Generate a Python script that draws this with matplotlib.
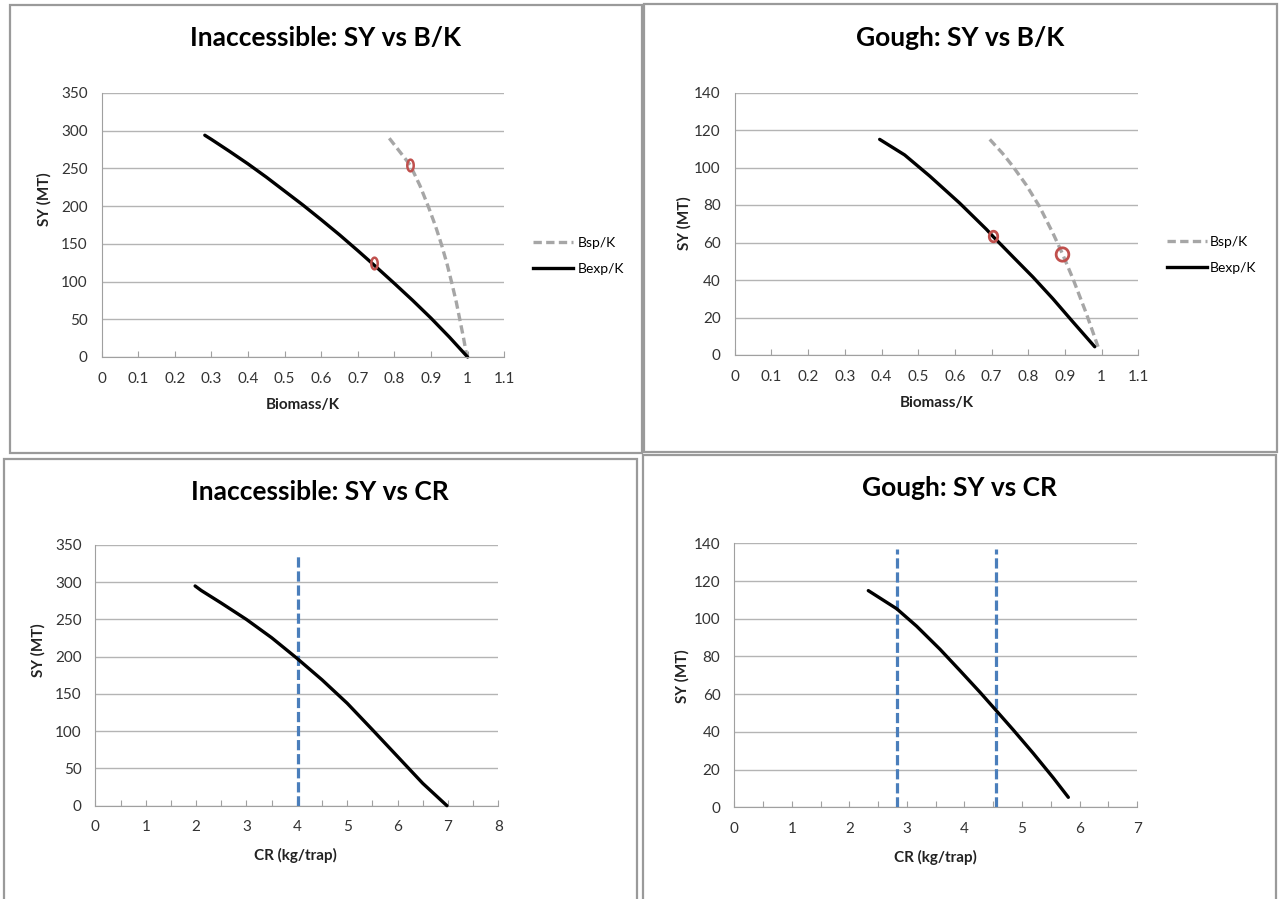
import matplotlib
matplotlib.use('Agg')
import matplotlib.pyplot as plt
from matplotlib.patches import Rectangle
from matplotlib.path import Path
from matplotlib.ticker import MultipleLocator, FuncFormatter
import numpy as np

plt.rcParams['font.family'] = ['Lato', 'DejaVu Sans']

# ---- data ----
# Inaccessible: SY vs B/K
ina_bexp_x = [0.282, 0.30, 0.35, 0.40, 0.45, 0.50, 0.55, 0.60, 0.65, 0.70, 0.75, 0.80, 0.85, 0.90, 0.95, 1.00]
ina_bexp_y = [294, 288.5, 272.5, 256, 238.5, 220, 201.5, 182, 162, 141, 119.5, 97.5, 75, 51.5, 26.5, 0]
ina_bsp_x = [0.786, 0.815, 0.843, 0.870, 0.893, 0.912, 0.929, 0.944, 0.957, 0.969, 0.979, 0.989, 0.998]
ina_bsp_y = [290, 272, 254.6, 227, 199, 174, 148.5, 123, 97.7, 73, 49, 25, 0.4]
ina_pts_x = [0.744, 0.843]
ina_pts_y = [124.6, 254.6]

# Gough: SY vs B/K
gou_bexp_x = [0.395, 0.463, 0.531, 0.613, 0.686, 0.704, 0.758, 0.813, 0.867, 0.920, 0.981]
gou_bexp_y = [115, 106.7, 95.5, 81, 67, 63.2, 52.4, 41.5, 30, 18.0, 4.4]
gou_bsp_x = [0.695, 0.730, 0.758, 0.795, 0.831, 0.867, 0.893, 0.922, 0.958, 0.990]
gou_bsp_y = [115, 107.5, 100.6, 90.5, 79, 65, 54, 40.5, 22.2, 4.4]
gou_pts_x = [0.704, 0.893]
gou_pts_y = [63.6, 53.9]

# Inaccessible: SY vs CR
ina_cr_x = [1.98, 2.1, 2.5, 3.0, 3.5, 4.0, 4.5, 5.0, 5.5, 6.0, 6.5, 6.98]
ina_cr_y = [295, 289, 272, 250, 225.5, 198, 169, 137.5, 102, 66, 30, 0]
ina_cr_marks = [4.03]
ina_cr_mark_top = 339

# Gough: SY vs CR
gou_cr_x = [2.329, 2.822, 3.17, 3.575, 3.922, 4.27, 4.543, 4.849, 5.196, 5.544, 5.805]
gou_cr_y = [114.9, 105.3, 96, 83.8, 72.5, 61, 51.6, 41, 28.6, 15.6, 5.3]
gou_cr_marks = [2.822, 4.543]
gou_cr_mark_top = 136.8

W, H = 1280, 899
fig = plt.figure(figsize=(12.8, 8.99), dpi=100)


def px_axes(l, r, t, b):
    return fig.add_axes([l / W, 1 - b / H, (r - l) / W, (b - t) / H])


def fig_text(x, y, s, **kw):
    fig.text(x / W, 1 - y / H, s, ha='center', va='center', **kw)


def ellipse_marker(ratio):
    th = np.linspace(0, 2 * np.pi, 61)
    return Path(np.column_stack([ratio * np.cos(th), np.sin(th)]), closed=True)


def style_axes(ax, xmax, xstep, xminor, ymax, ystep):
    ax.set_xlim(0, xmax)
    ax.set_ylim(0, ymax)
    ax.xaxis.set_major_locator(MultipleLocator(xstep))
    if xminor:
        ax.xaxis.set_minor_locator(MultipleLocator(xminor))
    ax.yaxis.set_major_locator(MultipleLocator(ystep))
    ax.xaxis.set_major_formatter(FuncFormatter(lambda v, p: '%g' % round(v, 2)))
    ax.grid(axis='y', color='#b4b4b4', lw=1.0)
    ax.set_axisbelow(True)
    for s in ['top', 'right']:
        ax.spines[s].set_visible(False)
    ax.spines['left'].set_color('#a0a0a0')
    ax.spines['bottom'].set_color('#a0a0a0')
    ax.tick_params(axis='x', which='both', direction='in', length=4.5, width=0.8,
                   color='#a0a0a0', pad=10.5, labelsize=11, labelcolor='#333333')
    ax.tick_params(axis='y', length=0, pad=10, labelsize=11, labelcolor='#333333')


red = '#c0504d'
blue = '#4a7ebb'
grey = '#a6a6a6'

# ---- panel 1 ----
ax1 = px_axes(101.6, 504.2, 93, 357)
style_axes(ax1, 1.1, 0.1, None, 350, 50)
l1, = ax1.plot(ina_bsp_x, ina_bsp_y, color=grey, lw=2.4, dashes=(2.5, 1.3), label='Bsp/K')
l2, = ax1.plot(ina_bexp_x, ina_bexp_y, color='black', lw=2.4, label='Bexp/K')
for x, y in zip(ina_pts_x, ina_pts_y):
    ax1.plot([x], [y], marker=ellipse_marker(0.55), ms=8.4, mfc='none', mec=red, mew=1.8, zorder=5)
ax1.legend(handles=[l1, l2], loc='center left', bbox_to_anchor=(533 / W, 1 - 256 / H),
           bbox_transform=fig.transFigure, frameon=False, fontsize=10, handlelength=2.9,
           handletextpad=0.35, labelspacing=1.05, borderpad=0, borderaxespad=0)

# ---- panel 2 ----
ax2 = px_axes(734.7, 1138.4, 92.5, 355)
style_axes(ax2, 1.1, 0.1, None, 140, 20)
l1, = ax2.plot(gou_bsp_x, gou_bsp_y, color=grey, lw=2.4, dashes=(2.5, 1.3), label='Bsp/K')
l2, = ax2.plot(gou_bexp_x, gou_bexp_y, color='black', lw=2.4, label='Bexp/K')
for x, y, r, ms in zip(gou_pts_x, gou_pts_y, [0.8, 0.95], [7.6, 9.6]):
    ax2.plot([x], [y], marker=ellipse_marker(r), ms=ms, mfc='none', mec=red, mew=2.0, zorder=5)
ax2.legend(handles=[l1, l2], loc='center left', bbox_to_anchor=(1167 / W, 1 - 255 / H),
           bbox_transform=fig.transFigure, frameon=False, fontsize=10, handlelength=2.9,
           handletextpad=0.2, labelspacing=1.05, borderpad=0, borderaxespad=0)

# ---- panel 3 ----
ax3 = px_axes(95.4, 498.3, 545, 805.7)
style_axes(ax3, 8, 1, 0.5, 350, 50)
ax3.vlines(ina_cr_marks, 0, ina_cr_mark_top, colors=blue, lw=2.3, linestyles=(0, (3.2, 1.2)), zorder=3)
ax3.plot(ina_cr_x, ina_cr_y, color='black', lw=2.4, zorder=4)

# ---- panel 4 ----
ax4 = px_axes(734.3, 1137.1, 543.3, 807.3)
style_axes(ax4, 7, 1, 0.5, 140, 20)
ax4.vlines(gou_cr_marks, 0, gou_cr_mark_top, colors=blue, lw=2.3, linestyles=(0, (3.2, 1.2)), zorder=3)
ax4.plot(gou_cr_x, gou_cr_y, color='black', lw=2.4, zorder=4)

for ax in (ax1, ax2, ax3, ax4):
    for ln in ax.lines:
        ln.set_clip_on(False)
        ln.set_solid_capstyle('round')
        ln.set_solid_joinstyle('round')

# ---- titles and axis labels ----
tkw = dict(fontsize=19, fontweight='bold', color='black')
fig_text(326, 38, 'Inaccessible: SY vs B/K', **tkw)
fig_text(960, 38, 'Gough: SY vs B/K', **tkw)
fig_text(320, 492, 'Inaccessible: SY vs CR', **tkw)
fig_text(959, 488, 'Gough: SY vs CR', **tkw)

lkw = dict(fontsize=11, fontweight='bold', color='#222222')
fig_text(302.6, 405, 'Biomass/K', **lkw)
fig_text(937, 403.5, 'Biomass/K', **lkw)
fig_text(295.5, 855, 'CR (kg/trap)', **lkw)
fig_text(935, 857, 'CR (kg/trap)', **lkw)
fig_text(44.5, 199, 'SY (MT)', rotation=90, **lkw)
fig_text(684, 223, 'SY (MT)', rotation=90, **lkw)
fig_text(38, 650, 'SY (MT)', rotation=90, **lkw)
fig_text(682, 676, 'SY (MT)', rotation=90, **lkw)

# ---- panel frames ----
for (x0, y0, x1, y1) in [(10, 5, 642, 453), (644, 4, 1277, 452), (4, 459, 637, 905), (643, 455, 1276, 905)]:
    fig.patches.append(Rectangle((x0 / W, 1 - y1 / H), (x1 - x0) / W, (y1 - y0) / H,
                                 transform=fig.transFigure, fill=False, ec='#9a9a9a', lw=1.6))

fig.savefig('out.png', dpi=100)
